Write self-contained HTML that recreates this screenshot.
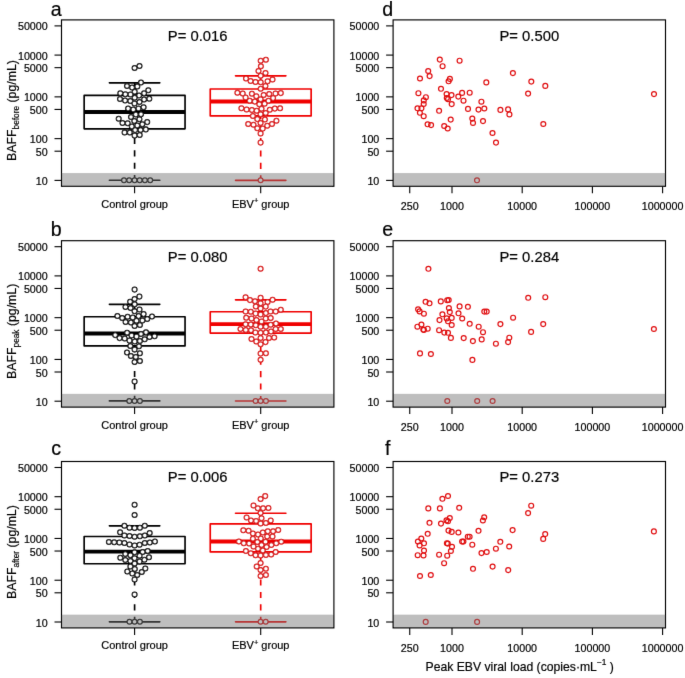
<!DOCTYPE html><html><head><meta charset="utf-8"><style>html,body{margin:0;padding:0;background:#fff;overflow:hidden}svg{display:block}</style></head><body><svg width="685" height="678" viewBox="0 0 685 678">
<defs><filter id="bl" x="0" y="0" width="100%" height="100%" filterUnits="userSpaceOnUse"><feConvolveMatrix order="3" kernelMatrix="0.00524 0.06192 0.00524 0.06192 0.73137 0.06192 0.00524 0.06192 0.00524" preserveAlpha="false" edgeMode="duplicate"/></filter></defs>
<rect width="685" height="678" fill="#fff"/>
<g filter="url(#bl)">
<line x1="54.5" y1="25.89" x2="61.5" y2="25.89" stroke="#000" stroke-width="1.1"/>
<text x="47.7" y="30.49" text-anchor="end" font-size="10.7" font-family="Liberation Sans, sans-serif" stroke="#000" stroke-width="0.2">50000</text>
<line x1="54.5" y1="55.09" x2="61.5" y2="55.09" stroke="#000" stroke-width="1.1"/>
<text x="47.7" y="59.69" text-anchor="end" font-size="10.7" font-family="Liberation Sans, sans-serif" stroke="#000" stroke-width="0.2">10000</text>
<line x1="54.5" y1="67.66" x2="61.5" y2="67.66" stroke="#000" stroke-width="1.1"/>
<text x="47.7" y="72.26" text-anchor="end" font-size="10.7" font-family="Liberation Sans, sans-serif" stroke="#000" stroke-width="0.2">5000</text>
<line x1="54.5" y1="96.86" x2="61.5" y2="96.86" stroke="#000" stroke-width="1.1"/>
<text x="47.7" y="101.46" text-anchor="end" font-size="10.7" font-family="Liberation Sans, sans-serif" stroke="#000" stroke-width="0.2">1000</text>
<line x1="54.5" y1="109.43" x2="61.5" y2="109.43" stroke="#000" stroke-width="1.1"/>
<text x="47.7" y="114.03" text-anchor="end" font-size="10.7" font-family="Liberation Sans, sans-serif" stroke="#000" stroke-width="0.2">500</text>
<line x1="54.5" y1="138.63" x2="61.5" y2="138.63" stroke="#000" stroke-width="1.1"/>
<text x="47.7" y="143.23" text-anchor="end" font-size="10.7" font-family="Liberation Sans, sans-serif" stroke="#000" stroke-width="0.2">100</text>
<line x1="54.5" y1="151.20" x2="61.5" y2="151.20" stroke="#000" stroke-width="1.1"/>
<text x="47.7" y="155.80" text-anchor="end" font-size="10.7" font-family="Liberation Sans, sans-serif" stroke="#000" stroke-width="0.2">50</text>
<line x1="54.5" y1="180.40" x2="61.5" y2="180.40" stroke="#000" stroke-width="1.1"/>
<text x="47.7" y="185.00" text-anchor="end" font-size="10.7" font-family="Liberation Sans, sans-serif" stroke="#000" stroke-width="0.2">10</text>
<line x1="134.6" y1="186.30" x2="134.6" y2="193.30" stroke="#000" stroke-width="1.1"/>
<text x="134.6" y="207.80" text-anchor="middle" font-size="11.0" font-family="Liberation Sans, sans-serif" stroke="#000" stroke-width="0.2">Control group</text>
<line x1="260.7" y1="186.30" x2="260.7" y2="193.30" stroke="#000" stroke-width="1.1"/>
<text x="260.7" y="207.80" text-anchor="middle" font-size="11.0" font-family="Liberation Sans, sans-serif" stroke="#000" stroke-width="0.2">EBV<tspan dy="-4.5" font-size="7.5">+</tspan><tspan dy="4.5"> group</tspan></text>
<line x1="134.6" y1="180.20" x2="134.6" y2="128.80" stroke="#000" stroke-width="1.65" stroke-dasharray="6.1 6.3" stroke-dashoffset="1.0"/>
<line x1="134.6" y1="82.80" x2="134.6" y2="95.40" stroke="#000" stroke-width="1.65" stroke-dasharray="6.1 6.3" stroke-dashoffset="1.0"/>
<line x1="109.39999999999999" y1="180.20" x2="159.79999999999998" y2="180.20" stroke="#000" stroke-width="1.65" stroke-linecap="round"/>
<line x1="109.39999999999999" y1="82.80" x2="159.79999999999998" y2="82.80" stroke="#000" stroke-width="1.65" stroke-linecap="round"/>
<rect x="84.15" y="95.40" width="100.90" height="33.40" fill="none" stroke="#000" stroke-width="1.65" stroke-linejoin="round"/>
<line x1="84.15" y1="112.00" x2="185.05" y2="112.00" stroke="#000" stroke-width="3.8"/>
<line x1="260.7" y1="180.30" x2="260.7" y2="115.90" stroke="#f00000" stroke-width="1.65" stroke-dasharray="6.1 6.3" stroke-dashoffset="1.0"/>
<line x1="260.7" y1="75.80" x2="260.7" y2="89.00" stroke="#f00000" stroke-width="1.65" stroke-dasharray="6.1 6.3" stroke-dashoffset="1.0"/>
<line x1="235.5" y1="180.30" x2="285.9" y2="180.30" stroke="#f00000" stroke-width="1.65" stroke-linecap="round"/>
<line x1="235.5" y1="75.80" x2="285.9" y2="75.80" stroke="#f00000" stroke-width="1.65" stroke-linecap="round"/>
<rect x="210.25" y="89.00" width="100.90" height="26.90" fill="none" stroke="#f00000" stroke-width="1.65" stroke-linejoin="round"/>
<line x1="210.25" y1="101.50" x2="311.15" y2="101.50" stroke="#f00000" stroke-width="3.8"/>
<circle cx="134.6" cy="68.0" r="2.4" fill="#fff" stroke="#000" stroke-width="1.25"/>
<circle cx="139.5" cy="65.9" r="2.4" fill="#fff" stroke="#000" stroke-width="1.25"/>
<circle cx="141.0" cy="82.5" r="2.4" fill="#fff" stroke="#000" stroke-width="1.25"/>
<circle cx="127.0" cy="86.0" r="2.4" fill="#fff" stroke="#000" stroke-width="1.25"/>
<circle cx="132.1" cy="87.4" r="2.4" fill="#fff" stroke="#000" stroke-width="1.25"/>
<circle cx="137.3" cy="86.4" r="2.4" fill="#fff" stroke="#000" stroke-width="1.25"/>
<circle cx="148.3" cy="90.2" r="2.4" fill="#fff" stroke="#000" stroke-width="1.25"/>
<circle cx="134.7" cy="91.7" r="2.4" fill="#fff" stroke="#000" stroke-width="1.25"/>
<circle cx="120.3" cy="93.3" r="2.4" fill="#fff" stroke="#000" stroke-width="1.25"/>
<circle cx="125.3" cy="94.3" r="2.4" fill="#fff" stroke="#000" stroke-width="1.25"/>
<circle cx="130.5" cy="94.5" r="2.4" fill="#fff" stroke="#000" stroke-width="1.25"/>
<circle cx="139.1" cy="95.4" r="2.4" fill="#fff" stroke="#000" stroke-width="1.25"/>
<circle cx="144.1" cy="93.3" r="2.4" fill="#fff" stroke="#000" stroke-width="1.25"/>
<circle cx="120.0" cy="98.9" r="2.4" fill="#fff" stroke="#000" stroke-width="1.25"/>
<circle cx="125.1" cy="100.4" r="2.4" fill="#fff" stroke="#000" stroke-width="1.25"/>
<circle cx="130.3" cy="100.9" r="2.4" fill="#fff" stroke="#000" stroke-width="1.25"/>
<circle cx="134.7" cy="97.8" r="2.4" fill="#fff" stroke="#000" stroke-width="1.25"/>
<circle cx="139.5" cy="101.9" r="2.4" fill="#fff" stroke="#000" stroke-width="1.25"/>
<circle cx="144.1" cy="99.5" r="2.4" fill="#fff" stroke="#000" stroke-width="1.25"/>
<circle cx="149.3" cy="98.7" r="2.4" fill="#fff" stroke="#000" stroke-width="1.25"/>
<circle cx="134.5" cy="103.5" r="2.4" fill="#fff" stroke="#000" stroke-width="1.25"/>
<circle cx="128.1" cy="108.5" r="2.4" fill="#fff" stroke="#000" stroke-width="1.25"/>
<circle cx="133.3" cy="109.5" r="2.4" fill="#fff" stroke="#000" stroke-width="1.25"/>
<circle cx="138.5" cy="108.5" r="2.4" fill="#fff" stroke="#000" stroke-width="1.25"/>
<circle cx="143.6" cy="107.3" r="2.4" fill="#fff" stroke="#000" stroke-width="1.25"/>
<circle cx="135.8" cy="114.4" r="2.4" fill="#fff" stroke="#000" stroke-width="1.25"/>
<circle cx="141.0" cy="114.2" r="2.4" fill="#fff" stroke="#000" stroke-width="1.25"/>
<circle cx="131.0" cy="117.0" r="2.4" fill="#fff" stroke="#000" stroke-width="1.25"/>
<circle cx="118.7" cy="118.8" r="2.4" fill="#fff" stroke="#000" stroke-width="1.25"/>
<circle cx="134.3" cy="121.0" r="2.4" fill="#fff" stroke="#000" stroke-width="1.25"/>
<circle cx="139.4" cy="119.3" r="2.4" fill="#fff" stroke="#000" stroke-width="1.25"/>
<circle cx="122.5" cy="122.9" r="2.4" fill="#fff" stroke="#000" stroke-width="1.25"/>
<circle cx="127.7" cy="123.2" r="2.4" fill="#fff" stroke="#000" stroke-width="1.25"/>
<circle cx="147.2" cy="122.1" r="2.4" fill="#fff" stroke="#000" stroke-width="1.25"/>
<circle cx="131.8" cy="126.4" r="2.4" fill="#fff" stroke="#000" stroke-width="1.25"/>
<circle cx="137.3" cy="125.4" r="2.4" fill="#fff" stroke="#000" stroke-width="1.25"/>
<circle cx="142.3" cy="124.3" r="2.4" fill="#fff" stroke="#000" stroke-width="1.25"/>
<circle cx="135.1" cy="130.1" r="2.4" fill="#fff" stroke="#000" stroke-width="1.25"/>
<circle cx="140.6" cy="129.9" r="2.4" fill="#fff" stroke="#000" stroke-width="1.25"/>
<circle cx="145.8" cy="129.4" r="2.4" fill="#fff" stroke="#000" stroke-width="1.25"/>
<circle cx="124.6" cy="132.4" r="2.4" fill="#fff" stroke="#000" stroke-width="1.25"/>
<circle cx="129.8" cy="132.4" r="2.4" fill="#fff" stroke="#000" stroke-width="1.25"/>
<circle cx="134.6" cy="135.6" r="2.4" fill="#fff" stroke="#000" stroke-width="1.25"/>
<circle cx="139.7" cy="135.0" r="2.4" fill="#fff" stroke="#000" stroke-width="1.25"/>
<circle cx="124.0" cy="180.2" r="2.4" fill="#fff" stroke="#000" stroke-width="1.25"/>
<circle cx="129.2" cy="180.2" r="2.4" fill="#fff" stroke="#000" stroke-width="1.25"/>
<circle cx="134.6" cy="180.2" r="2.4" fill="#fff" stroke="#000" stroke-width="1.25"/>
<circle cx="139.7" cy="180.2" r="2.4" fill="#fff" stroke="#000" stroke-width="1.25"/>
<circle cx="144.9" cy="180.2" r="2.4" fill="#fff" stroke="#000" stroke-width="1.25"/>
<circle cx="150.2" cy="180.2" r="2.4" fill="#fff" stroke="#000" stroke-width="1.25"/>
<circle cx="260.7" cy="60.7" r="2.4" fill="#fff" stroke="#d8080a" stroke-width="1.25"/>
<circle cx="265.9" cy="59.7" r="2.4" fill="#fff" stroke="#d8080a" stroke-width="1.25"/>
<circle cx="260.9" cy="66.2" r="2.4" fill="#fff" stroke="#d8080a" stroke-width="1.25"/>
<circle cx="258.5" cy="71.0" r="2.4" fill="#fff" stroke="#d8080a" stroke-width="1.25"/>
<circle cx="265.5" cy="73.0" r="2.4" fill="#fff" stroke="#d8080a" stroke-width="1.25"/>
<circle cx="260.7" cy="75.8" r="2.4" fill="#fff" stroke="#d8080a" stroke-width="1.25"/>
<circle cx="246.0" cy="78.4" r="2.4" fill="#fff" stroke="#d8080a" stroke-width="1.25"/>
<circle cx="250.6" cy="81.0" r="2.4" fill="#fff" stroke="#d8080a" stroke-width="1.25"/>
<circle cx="255.5" cy="81.9" r="2.4" fill="#fff" stroke="#d8080a" stroke-width="1.25"/>
<circle cx="260.7" cy="82.3" r="2.4" fill="#fff" stroke="#d8080a" stroke-width="1.25"/>
<circle cx="267.6" cy="81.3" r="2.4" fill="#fff" stroke="#d8080a" stroke-width="1.25"/>
<circle cx="272.5" cy="79.4" r="2.4" fill="#fff" stroke="#d8080a" stroke-width="1.25"/>
<circle cx="265.4" cy="86.0" r="2.4" fill="#fff" stroke="#d8080a" stroke-width="1.25"/>
<circle cx="260.7" cy="88.7" r="2.4" fill="#fff" stroke="#d8080a" stroke-width="1.25"/>
<circle cx="237.4" cy="92.8" r="2.4" fill="#fff" stroke="#d8080a" stroke-width="1.25"/>
<circle cx="242.7" cy="93.4" r="2.4" fill="#fff" stroke="#d8080a" stroke-width="1.25"/>
<circle cx="251.9" cy="93.7" r="2.4" fill="#fff" stroke="#d8080a" stroke-width="1.25"/>
<circle cx="256.3" cy="96.3" r="2.4" fill="#fff" stroke="#d8080a" stroke-width="1.25"/>
<circle cx="263.7" cy="95.0" r="2.4" fill="#fff" stroke="#d8080a" stroke-width="1.25"/>
<circle cx="269.2" cy="94.0" r="2.4" fill="#fff" stroke="#d8080a" stroke-width="1.25"/>
<circle cx="275.5" cy="93.4" r="2.4" fill="#fff" stroke="#d8080a" stroke-width="1.25"/>
<circle cx="280.8" cy="93.1" r="2.4" fill="#fff" stroke="#d8080a" stroke-width="1.25"/>
<circle cx="245.6" cy="97.5" r="2.4" fill="#fff" stroke="#d8080a" stroke-width="1.25"/>
<circle cx="260.6" cy="99.2" r="2.4" fill="#fff" stroke="#d8080a" stroke-width="1.25"/>
<circle cx="273.1" cy="98.1" r="2.4" fill="#fff" stroke="#d8080a" stroke-width="1.25"/>
<circle cx="249.7" cy="100.7" r="2.4" fill="#fff" stroke="#d8080a" stroke-width="1.25"/>
<circle cx="254.8" cy="101.6" r="2.4" fill="#fff" stroke="#d8080a" stroke-width="1.25"/>
<circle cx="268.5" cy="100.7" r="2.4" fill="#fff" stroke="#d8080a" stroke-width="1.25"/>
<circle cx="259.3" cy="104.2" r="2.4" fill="#fff" stroke="#d8080a" stroke-width="1.25"/>
<circle cx="264.6" cy="103.8" r="2.4" fill="#fff" stroke="#d8080a" stroke-width="1.25"/>
<circle cx="241.4" cy="108.3" r="2.4" fill="#fff" stroke="#d8080a" stroke-width="1.25"/>
<circle cx="246.6" cy="109.5" r="2.4" fill="#fff" stroke="#d8080a" stroke-width="1.25"/>
<circle cx="251.9" cy="109.9" r="2.4" fill="#fff" stroke="#d8080a" stroke-width="1.25"/>
<circle cx="256.7" cy="110.8" r="2.4" fill="#fff" stroke="#d8080a" stroke-width="1.25"/>
<circle cx="261.5" cy="108.8" r="2.4" fill="#fff" stroke="#d8080a" stroke-width="1.25"/>
<circle cx="269.8" cy="109.7" r="2.4" fill="#fff" stroke="#d8080a" stroke-width="1.25"/>
<circle cx="274.8" cy="108.6" r="2.4" fill="#fff" stroke="#d8080a" stroke-width="1.25"/>
<circle cx="280.1" cy="108.3" r="2.4" fill="#fff" stroke="#d8080a" stroke-width="1.25"/>
<circle cx="260.6" cy="114.3" r="2.4" fill="#fff" stroke="#d8080a" stroke-width="1.25"/>
<circle cx="265.7" cy="113.0" r="2.4" fill="#fff" stroke="#d8080a" stroke-width="1.25"/>
<circle cx="252.9" cy="116.0" r="2.4" fill="#fff" stroke="#d8080a" stroke-width="1.25"/>
<circle cx="257.3" cy="119.1" r="2.4" fill="#fff" stroke="#d8080a" stroke-width="1.25"/>
<circle cx="264.9" cy="119.5" r="2.4" fill="#fff" stroke="#d8080a" stroke-width="1.25"/>
<circle cx="260.6" cy="122.9" r="2.4" fill="#fff" stroke="#d8080a" stroke-width="1.25"/>
<circle cx="276.4" cy="120.8" r="2.4" fill="#fff" stroke="#d8080a" stroke-width="1.25"/>
<circle cx="248.2" cy="123.9" r="2.4" fill="#fff" stroke="#d8080a" stroke-width="1.25"/>
<circle cx="253.5" cy="124.8" r="2.4" fill="#fff" stroke="#d8080a" stroke-width="1.25"/>
<circle cx="272.0" cy="123.9" r="2.4" fill="#fff" stroke="#d8080a" stroke-width="1.25"/>
<circle cx="267.2" cy="125.8" r="2.4" fill="#fff" stroke="#d8080a" stroke-width="1.25"/>
<circle cx="257.3" cy="128.3" r="2.4" fill="#fff" stroke="#d8080a" stroke-width="1.25"/>
<circle cx="262.7" cy="128.6" r="2.4" fill="#fff" stroke="#d8080a" stroke-width="1.25"/>
<circle cx="260.6" cy="133.4" r="2.4" fill="#fff" stroke="#d8080a" stroke-width="1.25"/>
<circle cx="260.6" cy="142.6" r="2.4" fill="#fff" stroke="#d8080a" stroke-width="1.25"/>
<circle cx="260.6" cy="180.3" r="2.4" fill="#fff" stroke="#d8080a" stroke-width="1.25"/>
<rect x="61.5" y="173.04" width="272.40" height="13.26" fill="rgb(110,110,110)" fill-opacity="0.45"/>
<rect x="61.5" y="19.900000000000006" width="272.40" height="166.40" fill="none" stroke="#000" stroke-width="1.15"/>
<text x="197.7" y="40.70" text-anchor="middle" font-size="14.8" font-family="Liberation Sans, sans-serif" stroke="#000" stroke-width="0.2">P= 0.016</text>
<text x="56.2" y="15.7" text-anchor="middle" font-size="19.6" font-family="Liberation Sans, sans-serif" stroke="#000" stroke-width="0.2">a</text>
<text transform="translate(16.0,110.50) rotate(-90)" text-anchor="middle" font-size="12.3" font-family="Liberation Sans, sans-serif" stroke="#000" stroke-width="0.2">BAFF<tspan dy="2.6" font-size="8.3">before</tspan><tspan dy="-2.6"> (pg/mL)</tspan></text>
<line x1="386.1" y1="25.89" x2="393.1" y2="25.89" stroke="#000" stroke-width="1.1"/>
<text x="379.3" y="30.49" text-anchor="end" font-size="10.7" font-family="Liberation Sans, sans-serif" stroke="#000" stroke-width="0.2">50000</text>
<line x1="386.1" y1="55.09" x2="393.1" y2="55.09" stroke="#000" stroke-width="1.1"/>
<text x="379.3" y="59.69" text-anchor="end" font-size="10.7" font-family="Liberation Sans, sans-serif" stroke="#000" stroke-width="0.2">10000</text>
<line x1="386.1" y1="67.66" x2="393.1" y2="67.66" stroke="#000" stroke-width="1.1"/>
<text x="379.3" y="72.26" text-anchor="end" font-size="10.7" font-family="Liberation Sans, sans-serif" stroke="#000" stroke-width="0.2">5000</text>
<line x1="386.1" y1="96.86" x2="393.1" y2="96.86" stroke="#000" stroke-width="1.1"/>
<text x="379.3" y="101.46" text-anchor="end" font-size="10.7" font-family="Liberation Sans, sans-serif" stroke="#000" stroke-width="0.2">1000</text>
<line x1="386.1" y1="109.43" x2="393.1" y2="109.43" stroke="#000" stroke-width="1.1"/>
<text x="379.3" y="114.03" text-anchor="end" font-size="10.7" font-family="Liberation Sans, sans-serif" stroke="#000" stroke-width="0.2">500</text>
<line x1="386.1" y1="138.63" x2="393.1" y2="138.63" stroke="#000" stroke-width="1.1"/>
<text x="379.3" y="143.23" text-anchor="end" font-size="10.7" font-family="Liberation Sans, sans-serif" stroke="#000" stroke-width="0.2">100</text>
<line x1="386.1" y1="151.20" x2="393.1" y2="151.20" stroke="#000" stroke-width="1.1"/>
<text x="379.3" y="155.80" text-anchor="end" font-size="10.7" font-family="Liberation Sans, sans-serif" stroke="#000" stroke-width="0.2">50</text>
<line x1="386.1" y1="180.40" x2="393.1" y2="180.40" stroke="#000" stroke-width="1.1"/>
<text x="379.3" y="185.00" text-anchor="end" font-size="10.7" font-family="Liberation Sans, sans-serif" stroke="#000" stroke-width="0.2">10</text>
<line x1="409.74" y1="186.30" x2="409.74" y2="193.30" stroke="#000" stroke-width="1.1"/>
<text x="409.74" y="209.90" text-anchor="middle" font-size="10.7" font-family="Liberation Sans, sans-serif" stroke="#000" stroke-width="0.2">250</text>
<line x1="452.00" y1="186.30" x2="452.00" y2="193.30" stroke="#000" stroke-width="1.1"/>
<text x="452.00" y="209.90" text-anchor="middle" font-size="10.7" font-family="Liberation Sans, sans-serif" stroke="#000" stroke-width="0.2">1000</text>
<line x1="522.20" y1="186.30" x2="522.20" y2="193.30" stroke="#000" stroke-width="1.1"/>
<text x="522.20" y="209.90" text-anchor="middle" font-size="10.7" font-family="Liberation Sans, sans-serif" stroke="#000" stroke-width="0.2">10000</text>
<line x1="592.40" y1="186.30" x2="592.40" y2="193.30" stroke="#000" stroke-width="1.1"/>
<text x="592.40" y="209.90" text-anchor="middle" font-size="10.7" font-family="Liberation Sans, sans-serif" stroke="#000" stroke-width="0.2">100000</text>
<line x1="662.60" y1="186.30" x2="662.60" y2="193.30" stroke="#000" stroke-width="1.1"/>
<text x="662.60" y="209.90" text-anchor="middle" font-size="10.7" font-family="Liberation Sans, sans-serif" stroke="#000" stroke-width="0.2">1000000</text>
<circle cx="439.8" cy="59.6" r="2.45" fill="none" stroke="#e00c10" stroke-width="1.2"/>
<circle cx="442.6" cy="66.2" r="2.45" fill="none" stroke="#e00c10" stroke-width="1.2"/>
<circle cx="428.2" cy="71.0" r="2.45" fill="none" stroke="#e00c10" stroke-width="1.2"/>
<circle cx="429.6" cy="76.1" r="2.45" fill="none" stroke="#e00c10" stroke-width="1.2"/>
<circle cx="420.0" cy="78.5" r="2.45" fill="none" stroke="#e00c10" stroke-width="1.2"/>
<circle cx="449.9" cy="78.9" r="2.45" fill="none" stroke="#e00c10" stroke-width="1.2"/>
<circle cx="448.6" cy="81.3" r="2.45" fill="none" stroke="#e00c10" stroke-width="1.2"/>
<circle cx="459.6" cy="60.7" r="2.45" fill="none" stroke="#e00c10" stroke-width="1.2"/>
<circle cx="486.3" cy="82.4" r="2.45" fill="none" stroke="#e00c10" stroke-width="1.2"/>
<circle cx="512.9" cy="73.1" r="2.45" fill="none" stroke="#e00c10" stroke-width="1.2"/>
<circle cx="441.0" cy="88.8" r="2.45" fill="none" stroke="#e00c10" stroke-width="1.2"/>
<circle cx="418.4" cy="93.2" r="2.45" fill="none" stroke="#e00c10" stroke-width="1.2"/>
<circle cx="425.9" cy="97.2" r="2.45" fill="none" stroke="#e00c10" stroke-width="1.2"/>
<circle cx="423.8" cy="100.4" r="2.45" fill="none" stroke="#e00c10" stroke-width="1.2"/>
<circle cx="423.7" cy="104.0" r="2.45" fill="none" stroke="#e00c10" stroke-width="1.2"/>
<circle cx="417.5" cy="108.3" r="2.45" fill="none" stroke="#e00c10" stroke-width="1.2"/>
<circle cx="421.4" cy="108.3" r="2.45" fill="none" stroke="#e00c10" stroke-width="1.2"/>
<circle cx="419.9" cy="112.8" r="2.45" fill="none" stroke="#e00c10" stroke-width="1.2"/>
<circle cx="423.7" cy="116.2" r="2.45" fill="none" stroke="#e00c10" stroke-width="1.2"/>
<circle cx="446.6" cy="94.0" r="2.45" fill="none" stroke="#e00c10" stroke-width="1.2"/>
<circle cx="451.5" cy="95.1" r="2.45" fill="none" stroke="#e00c10" stroke-width="1.2"/>
<circle cx="446.8" cy="98.0" r="2.45" fill="none" stroke="#e00c10" stroke-width="1.2"/>
<circle cx="448.0" cy="99.2" r="2.45" fill="none" stroke="#e00c10" stroke-width="1.2"/>
<circle cx="451.7" cy="104.1" r="2.45" fill="none" stroke="#e00c10" stroke-width="1.2"/>
<circle cx="458.3" cy="96.6" r="2.45" fill="none" stroke="#e00c10" stroke-width="1.2"/>
<circle cx="462.1" cy="92.9" r="2.45" fill="none" stroke="#e00c10" stroke-width="1.2"/>
<circle cx="463.5" cy="100.7" r="2.45" fill="none" stroke="#e00c10" stroke-width="1.2"/>
<circle cx="439.1" cy="110.8" r="2.45" fill="none" stroke="#e00c10" stroke-width="1.2"/>
<circle cx="469.7" cy="92.7" r="2.45" fill="none" stroke="#e00c10" stroke-width="1.2"/>
<circle cx="481.4" cy="101.7" r="2.45" fill="none" stroke="#e00c10" stroke-width="1.2"/>
<circle cx="468.0" cy="108.9" r="2.45" fill="none" stroke="#e00c10" stroke-width="1.2"/>
<circle cx="478.5" cy="109.6" r="2.45" fill="none" stroke="#e00c10" stroke-width="1.2"/>
<circle cx="484.3" cy="108.5" r="2.45" fill="none" stroke="#e00c10" stroke-width="1.2"/>
<circle cx="500.4" cy="109.9" r="2.45" fill="none" stroke="#e00c10" stroke-width="1.2"/>
<circle cx="508.1" cy="109.4" r="2.45" fill="none" stroke="#e00c10" stroke-width="1.2"/>
<circle cx="509.4" cy="114.4" r="2.45" fill="none" stroke="#e00c10" stroke-width="1.2"/>
<circle cx="450.7" cy="119.6" r="2.45" fill="none" stroke="#e00c10" stroke-width="1.2"/>
<circle cx="427.6" cy="124.3" r="2.45" fill="none" stroke="#e00c10" stroke-width="1.2"/>
<circle cx="431.1" cy="125.1" r="2.45" fill="none" stroke="#e00c10" stroke-width="1.2"/>
<circle cx="444.2" cy="126.0" r="2.45" fill="none" stroke="#e00c10" stroke-width="1.2"/>
<circle cx="447.7" cy="128.5" r="2.45" fill="none" stroke="#e00c10" stroke-width="1.2"/>
<circle cx="472.3" cy="118.6" r="2.45" fill="none" stroke="#e00c10" stroke-width="1.2"/>
<circle cx="473.0" cy="122.9" r="2.45" fill="none" stroke="#e00c10" stroke-width="1.2"/>
<circle cx="483.0" cy="121.1" r="2.45" fill="none" stroke="#e00c10" stroke-width="1.2"/>
<circle cx="492.5" cy="133.0" r="2.45" fill="none" stroke="#e00c10" stroke-width="1.2"/>
<circle cx="496.0" cy="142.6" r="2.45" fill="none" stroke="#e00c10" stroke-width="1.2"/>
<circle cx="531.3" cy="81.6" r="2.45" fill="none" stroke="#e00c10" stroke-width="1.2"/>
<circle cx="545.3" cy="85.9" r="2.45" fill="none" stroke="#e00c10" stroke-width="1.2"/>
<circle cx="528.1" cy="93.6" r="2.45" fill="none" stroke="#e00c10" stroke-width="1.2"/>
<circle cx="543.3" cy="124.0" r="2.45" fill="none" stroke="#e00c10" stroke-width="1.2"/>
<circle cx="654.0" cy="94.1" r="2.45" fill="none" stroke="#e00c10" stroke-width="1.2"/>
<circle cx="477.0" cy="180.3" r="2.45" fill="none" stroke="#e00c10" stroke-width="1.2"/>
<rect x="393.1" y="173.04" width="272.40" height="13.26" fill="rgb(110,110,110)" fill-opacity="0.45"/>
<rect x="393.1" y="19.900000000000006" width="272.40" height="166.40" fill="none" stroke="#000" stroke-width="1.15"/>
<text x="529.3" y="40.70" text-anchor="middle" font-size="14.8" font-family="Liberation Sans, sans-serif" stroke="#000" stroke-width="0.2">P= 0.500</text>
<text x="387.8" y="15.6" text-anchor="middle" font-size="19.6" font-family="Liberation Sans, sans-serif" stroke="#000" stroke-width="0.2">d</text>
<line x1="54.5" y1="246.69" x2="61.5" y2="246.69" stroke="#000" stroke-width="1.1"/>
<text x="47.7" y="251.29" text-anchor="end" font-size="10.7" font-family="Liberation Sans, sans-serif" stroke="#000" stroke-width="0.2">50000</text>
<line x1="54.5" y1="275.89" x2="61.5" y2="275.89" stroke="#000" stroke-width="1.1"/>
<text x="47.7" y="280.49" text-anchor="end" font-size="10.7" font-family="Liberation Sans, sans-serif" stroke="#000" stroke-width="0.2">10000</text>
<line x1="54.5" y1="288.46" x2="61.5" y2="288.46" stroke="#000" stroke-width="1.1"/>
<text x="47.7" y="293.06" text-anchor="end" font-size="10.7" font-family="Liberation Sans, sans-serif" stroke="#000" stroke-width="0.2">5000</text>
<line x1="54.5" y1="317.66" x2="61.5" y2="317.66" stroke="#000" stroke-width="1.1"/>
<text x="47.7" y="322.26" text-anchor="end" font-size="10.7" font-family="Liberation Sans, sans-serif" stroke="#000" stroke-width="0.2">1000</text>
<line x1="54.5" y1="330.23" x2="61.5" y2="330.23" stroke="#000" stroke-width="1.1"/>
<text x="47.7" y="334.83" text-anchor="end" font-size="10.7" font-family="Liberation Sans, sans-serif" stroke="#000" stroke-width="0.2">500</text>
<line x1="54.5" y1="359.43" x2="61.5" y2="359.43" stroke="#000" stroke-width="1.1"/>
<text x="47.7" y="364.03" text-anchor="end" font-size="10.7" font-family="Liberation Sans, sans-serif" stroke="#000" stroke-width="0.2">100</text>
<line x1="54.5" y1="372.00" x2="61.5" y2="372.00" stroke="#000" stroke-width="1.1"/>
<text x="47.7" y="376.60" text-anchor="end" font-size="10.7" font-family="Liberation Sans, sans-serif" stroke="#000" stroke-width="0.2">50</text>
<line x1="54.5" y1="401.20" x2="61.5" y2="401.20" stroke="#000" stroke-width="1.1"/>
<text x="47.7" y="405.80" text-anchor="end" font-size="10.7" font-family="Liberation Sans, sans-serif" stroke="#000" stroke-width="0.2">10</text>
<line x1="134.6" y1="407.10" x2="134.6" y2="414.10" stroke="#000" stroke-width="1.1"/>
<text x="134.6" y="428.60" text-anchor="middle" font-size="11.0" font-family="Liberation Sans, sans-serif" stroke="#000" stroke-width="0.2">Control group</text>
<line x1="260.7" y1="407.10" x2="260.7" y2="414.10" stroke="#000" stroke-width="1.1"/>
<text x="260.7" y="428.60" text-anchor="middle" font-size="11.0" font-family="Liberation Sans, sans-serif" stroke="#000" stroke-width="0.2">EBV<tspan dy="-4.5" font-size="7.5">+</tspan><tspan dy="4.5"> group</tspan></text>
<line x1="134.6" y1="400.90" x2="134.6" y2="345.90" stroke="#000" stroke-width="1.65" stroke-dasharray="6.1 6.3" stroke-dashoffset="1.0"/>
<line x1="134.6" y1="304.30" x2="134.6" y2="316.70" stroke="#000" stroke-width="1.65" stroke-dasharray="6.1 6.3" stroke-dashoffset="1.0"/>
<line x1="109.39999999999999" y1="400.90" x2="159.79999999999998" y2="400.90" stroke="#000" stroke-width="1.65" stroke-linecap="round"/>
<line x1="109.39999999999999" y1="304.30" x2="159.79999999999998" y2="304.30" stroke="#000" stroke-width="1.65" stroke-linecap="round"/>
<rect x="84.15" y="316.70" width="100.90" height="29.20" fill="none" stroke="#000" stroke-width="1.65" stroke-linejoin="round"/>
<line x1="84.15" y1="333.50" x2="185.05" y2="333.50" stroke="#000" stroke-width="3.8"/>
<line x1="260.7" y1="401.00" x2="260.7" y2="333.10" stroke="#f00000" stroke-width="1.65" stroke-dasharray="6.1 6.3" stroke-dashoffset="1.0"/>
<line x1="260.7" y1="299.80" x2="260.7" y2="311.70" stroke="#f00000" stroke-width="1.65" stroke-dasharray="6.1 6.3" stroke-dashoffset="1.0"/>
<line x1="235.5" y1="401.00" x2="285.9" y2="401.00" stroke="#f00000" stroke-width="1.65" stroke-linecap="round"/>
<line x1="235.5" y1="299.80" x2="285.9" y2="299.80" stroke="#f00000" stroke-width="1.65" stroke-linecap="round"/>
<rect x="210.25" y="311.70" width="100.90" height="21.40" fill="none" stroke="#f00000" stroke-width="1.65" stroke-linejoin="round"/>
<line x1="210.25" y1="324.10" x2="311.15" y2="324.10" stroke="#f00000" stroke-width="3.8"/>
<circle cx="134.6" cy="289.6" r="2.4" fill="#fff" stroke="#000" stroke-width="1.25"/>
<circle cx="139.4" cy="296.6" r="2.4" fill="#fff" stroke="#000" stroke-width="1.25"/>
<circle cx="134.6" cy="299.0" r="2.4" fill="#fff" stroke="#000" stroke-width="1.25"/>
<circle cx="130.1" cy="301.8" r="2.4" fill="#fff" stroke="#000" stroke-width="1.25"/>
<circle cx="134.7" cy="304.3" r="2.4" fill="#fff" stroke="#000" stroke-width="1.25"/>
<circle cx="125.5" cy="306.9" r="2.4" fill="#fff" stroke="#000" stroke-width="1.25"/>
<circle cx="130.6" cy="307.9" r="2.4" fill="#fff" stroke="#000" stroke-width="1.25"/>
<circle cx="139.5" cy="309.4" r="2.4" fill="#fff" stroke="#000" stroke-width="1.25"/>
<circle cx="134.6" cy="311.3" r="2.4" fill="#fff" stroke="#000" stroke-width="1.25"/>
<circle cx="143.6" cy="314.1" r="2.4" fill="#fff" stroke="#000" stroke-width="1.25"/>
<circle cx="117.4" cy="315.9" r="2.4" fill="#fff" stroke="#000" stroke-width="1.25"/>
<circle cx="122.2" cy="318.0" r="2.4" fill="#fff" stroke="#000" stroke-width="1.25"/>
<circle cx="127.6" cy="316.7" r="2.4" fill="#fff" stroke="#000" stroke-width="1.25"/>
<circle cx="132.7" cy="317.5" r="2.4" fill="#fff" stroke="#000" stroke-width="1.25"/>
<circle cx="138.6" cy="316.1" r="2.4" fill="#fff" stroke="#000" stroke-width="1.25"/>
<circle cx="147.2" cy="318.9" r="2.4" fill="#fff" stroke="#000" stroke-width="1.25"/>
<circle cx="152.0" cy="316.5" r="2.4" fill="#fff" stroke="#000" stroke-width="1.25"/>
<circle cx="125.6" cy="322.0" r="2.4" fill="#fff" stroke="#000" stroke-width="1.25"/>
<circle cx="130.9" cy="322.4" r="2.4" fill="#fff" stroke="#000" stroke-width="1.25"/>
<circle cx="136.5" cy="320.8" r="2.4" fill="#fff" stroke="#000" stroke-width="1.25"/>
<circle cx="142.4" cy="320.4" r="2.4" fill="#fff" stroke="#000" stroke-width="1.25"/>
<circle cx="134.6" cy="325.9" r="2.4" fill="#fff" stroke="#000" stroke-width="1.25"/>
<circle cx="139.9" cy="325.0" r="2.4" fill="#fff" stroke="#000" stroke-width="1.25"/>
<circle cx="127.1" cy="332.7" r="2.4" fill="#fff" stroke="#000" stroke-width="1.25"/>
<circle cx="146.0" cy="332.2" r="2.4" fill="#fff" stroke="#000" stroke-width="1.25"/>
<circle cx="115.2" cy="335.1" r="2.4" fill="#fff" stroke="#000" stroke-width="1.25"/>
<circle cx="119.6" cy="338.1" r="2.4" fill="#fff" stroke="#000" stroke-width="1.25"/>
<circle cx="124.7" cy="338.4" r="2.4" fill="#fff" stroke="#000" stroke-width="1.25"/>
<circle cx="131.6" cy="335.5" r="2.4" fill="#fff" stroke="#000" stroke-width="1.25"/>
<circle cx="136.5" cy="336.6" r="2.4" fill="#fff" stroke="#000" stroke-width="1.25"/>
<circle cx="141.0" cy="334.0" r="2.4" fill="#fff" stroke="#000" stroke-width="1.25"/>
<circle cx="149.5" cy="337.0" r="2.4" fill="#fff" stroke="#000" stroke-width="1.25"/>
<circle cx="154.6" cy="336.2" r="2.4" fill="#fff" stroke="#000" stroke-width="1.25"/>
<circle cx="129.5" cy="340.6" r="2.4" fill="#fff" stroke="#000" stroke-width="1.25"/>
<circle cx="134.7" cy="341.4" r="2.4" fill="#fff" stroke="#000" stroke-width="1.25"/>
<circle cx="139.9" cy="340.9" r="2.4" fill="#fff" stroke="#000" stroke-width="1.25"/>
<circle cx="144.7" cy="339.2" r="2.4" fill="#fff" stroke="#000" stroke-width="1.25"/>
<circle cx="130.3" cy="346.0" r="2.4" fill="#fff" stroke="#000" stroke-width="1.25"/>
<circle cx="139.0" cy="346.2" r="2.4" fill="#fff" stroke="#000" stroke-width="1.25"/>
<circle cx="134.6" cy="349.4" r="2.4" fill="#fff" stroke="#000" stroke-width="1.25"/>
<circle cx="127.0" cy="352.4" r="2.4" fill="#fff" stroke="#000" stroke-width="1.25"/>
<circle cx="139.9" cy="353.2" r="2.4" fill="#fff" stroke="#000" stroke-width="1.25"/>
<circle cx="130.9" cy="356.0" r="2.4" fill="#fff" stroke="#000" stroke-width="1.25"/>
<circle cx="135.8" cy="356.9" r="2.4" fill="#fff" stroke="#000" stroke-width="1.25"/>
<circle cx="134.6" cy="361.9" r="2.4" fill="#fff" stroke="#000" stroke-width="1.25"/>
<circle cx="139.9" cy="360.9" r="2.4" fill="#fff" stroke="#000" stroke-width="1.25"/>
<circle cx="134.6" cy="381.4" r="2.4" fill="#fff" stroke="#000" stroke-width="1.25"/>
<circle cx="129.3" cy="400.9" r="2.4" fill="#fff" stroke="#000" stroke-width="1.25"/>
<circle cx="134.6" cy="400.9" r="2.4" fill="#fff" stroke="#000" stroke-width="1.25"/>
<circle cx="139.9" cy="400.9" r="2.4" fill="#fff" stroke="#000" stroke-width="1.25"/>
<circle cx="260.6" cy="268.8" r="2.4" fill="#fff" stroke="#d8080a" stroke-width="1.25"/>
<circle cx="245.6" cy="297.2" r="2.4" fill="#fff" stroke="#d8080a" stroke-width="1.25"/>
<circle cx="250.0" cy="300.1" r="2.4" fill="#fff" stroke="#d8080a" stroke-width="1.25"/>
<circle cx="255.0" cy="301.2" r="2.4" fill="#fff" stroke="#d8080a" stroke-width="1.25"/>
<circle cx="260.6" cy="297.7" r="2.4" fill="#fff" stroke="#d8080a" stroke-width="1.25"/>
<circle cx="260.6" cy="303.2" r="2.4" fill="#fff" stroke="#d8080a" stroke-width="1.25"/>
<circle cx="267.6" cy="302.0" r="2.4" fill="#fff" stroke="#d8080a" stroke-width="1.25"/>
<circle cx="272.6" cy="299.8" r="2.4" fill="#fff" stroke="#d8080a" stroke-width="1.25"/>
<circle cx="255.8" cy="306.4" r="2.4" fill="#fff" stroke="#d8080a" stroke-width="1.25"/>
<circle cx="265.7" cy="306.6" r="2.4" fill="#fff" stroke="#d8080a" stroke-width="1.25"/>
<circle cx="260.6" cy="308.5" r="2.4" fill="#fff" stroke="#d8080a" stroke-width="1.25"/>
<circle cx="245.6" cy="311.4" r="2.4" fill="#fff" stroke="#d8080a" stroke-width="1.25"/>
<circle cx="250.8" cy="311.8" r="2.4" fill="#fff" stroke="#d8080a" stroke-width="1.25"/>
<circle cx="255.6" cy="313.6" r="2.4" fill="#fff" stroke="#d8080a" stroke-width="1.25"/>
<circle cx="260.6" cy="314.4" r="2.4" fill="#fff" stroke="#d8080a" stroke-width="1.25"/>
<circle cx="265.9" cy="313.1" r="2.4" fill="#fff" stroke="#d8080a" stroke-width="1.25"/>
<circle cx="270.5" cy="311.4" r="2.4" fill="#fff" stroke="#d8080a" stroke-width="1.25"/>
<circle cx="275.7" cy="311.4" r="2.4" fill="#fff" stroke="#d8080a" stroke-width="1.25"/>
<circle cx="280.8" cy="309.8" r="2.4" fill="#fff" stroke="#d8080a" stroke-width="1.25"/>
<circle cx="246.2" cy="317.7" r="2.4" fill="#fff" stroke="#d8080a" stroke-width="1.25"/>
<circle cx="251.5" cy="318.4" r="2.4" fill="#fff" stroke="#d8080a" stroke-width="1.25"/>
<circle cx="256.4" cy="320.0" r="2.4" fill="#fff" stroke="#d8080a" stroke-width="1.25"/>
<circle cx="261.5" cy="321.5" r="2.4" fill="#fff" stroke="#d8080a" stroke-width="1.25"/>
<circle cx="265.7" cy="318.4" r="2.4" fill="#fff" stroke="#d8080a" stroke-width="1.25"/>
<circle cx="270.7" cy="318.0" r="2.4" fill="#fff" stroke="#d8080a" stroke-width="1.25"/>
<circle cx="245.6" cy="324.3" r="2.4" fill="#fff" stroke="#d8080a" stroke-width="1.25"/>
<circle cx="250.8" cy="324.5" r="2.4" fill="#fff" stroke="#d8080a" stroke-width="1.25"/>
<circle cx="255.8" cy="325.2" r="2.4" fill="#fff" stroke="#d8080a" stroke-width="1.25"/>
<circle cx="260.6" cy="326.7" r="2.4" fill="#fff" stroke="#d8080a" stroke-width="1.25"/>
<circle cx="265.9" cy="326.7" r="2.4" fill="#fff" stroke="#d8080a" stroke-width="1.25"/>
<circle cx="270.7" cy="324.7" r="2.4" fill="#fff" stroke="#d8080a" stroke-width="1.25"/>
<circle cx="276.0" cy="323.5" r="2.4" fill="#fff" stroke="#d8080a" stroke-width="1.25"/>
<circle cx="240.5" cy="328.9" r="2.4" fill="#fff" stroke="#d8080a" stroke-width="1.25"/>
<circle cx="245.8" cy="329.9" r="2.4" fill="#fff" stroke="#d8080a" stroke-width="1.25"/>
<circle cx="251.0" cy="330.2" r="2.4" fill="#fff" stroke="#d8080a" stroke-width="1.25"/>
<circle cx="255.4" cy="332.4" r="2.4" fill="#fff" stroke="#d8080a" stroke-width="1.25"/>
<circle cx="260.6" cy="332.8" r="2.4" fill="#fff" stroke="#d8080a" stroke-width="1.25"/>
<circle cx="265.9" cy="332.4" r="2.4" fill="#fff" stroke="#d8080a" stroke-width="1.25"/>
<circle cx="271.0" cy="331.5" r="2.4" fill="#fff" stroke="#d8080a" stroke-width="1.25"/>
<circle cx="275.7" cy="328.9" r="2.4" fill="#fff" stroke="#d8080a" stroke-width="1.25"/>
<circle cx="280.8" cy="328.9" r="2.4" fill="#fff" stroke="#d8080a" stroke-width="1.25"/>
<circle cx="251.5" cy="338.9" r="2.4" fill="#fff" stroke="#d8080a" stroke-width="1.25"/>
<circle cx="260.6" cy="338.0" r="2.4" fill="#fff" stroke="#d8080a" stroke-width="1.25"/>
<circle cx="269.0" cy="338.0" r="2.4" fill="#fff" stroke="#d8080a" stroke-width="1.25"/>
<circle cx="274.2" cy="337.5" r="2.4" fill="#fff" stroke="#d8080a" stroke-width="1.25"/>
<circle cx="256.3" cy="341.4" r="2.4" fill="#fff" stroke="#d8080a" stroke-width="1.25"/>
<circle cx="265.5" cy="342.1" r="2.4" fill="#fff" stroke="#d8080a" stroke-width="1.25"/>
<circle cx="260.6" cy="344.2" r="2.4" fill="#fff" stroke="#d8080a" stroke-width="1.25"/>
<circle cx="260.6" cy="353.6" r="2.4" fill="#fff" stroke="#d8080a" stroke-width="1.25"/>
<circle cx="265.9" cy="353.2" r="2.4" fill="#fff" stroke="#d8080a" stroke-width="1.25"/>
<circle cx="260.6" cy="359.8" r="2.4" fill="#fff" stroke="#d8080a" stroke-width="1.25"/>
<circle cx="255.6" cy="401.0" r="2.4" fill="#fff" stroke="#d8080a" stroke-width="1.25"/>
<circle cx="260.6" cy="401.0" r="2.4" fill="#fff" stroke="#d8080a" stroke-width="1.25"/>
<circle cx="265.9" cy="401.0" r="2.4" fill="#fff" stroke="#d8080a" stroke-width="1.25"/>
<rect x="61.5" y="393.84" width="272.40" height="13.26" fill="rgb(110,110,110)" fill-opacity="0.45"/>
<rect x="61.5" y="240.7" width="272.40" height="166.40" fill="none" stroke="#000" stroke-width="1.15"/>
<text x="197.7" y="261.50" text-anchor="middle" font-size="14.8" font-family="Liberation Sans, sans-serif" stroke="#000" stroke-width="0.2">P= 0.080</text>
<text x="56.2" y="235.5" text-anchor="middle" font-size="19.6" font-family="Liberation Sans, sans-serif" stroke="#000" stroke-width="0.2">b</text>
<text transform="translate(16.0,331.30) rotate(-90)" text-anchor="middle" font-size="12.3" font-family="Liberation Sans, sans-serif" stroke="#000" stroke-width="0.2">BAFF<tspan dy="2.6" font-size="8.3">peak</tspan><tspan dy="-2.6"> (pg/mL)</tspan></text>
<line x1="386.1" y1="246.69" x2="393.1" y2="246.69" stroke="#000" stroke-width="1.1"/>
<text x="379.3" y="251.29" text-anchor="end" font-size="10.7" font-family="Liberation Sans, sans-serif" stroke="#000" stroke-width="0.2">50000</text>
<line x1="386.1" y1="275.89" x2="393.1" y2="275.89" stroke="#000" stroke-width="1.1"/>
<text x="379.3" y="280.49" text-anchor="end" font-size="10.7" font-family="Liberation Sans, sans-serif" stroke="#000" stroke-width="0.2">10000</text>
<line x1="386.1" y1="288.46" x2="393.1" y2="288.46" stroke="#000" stroke-width="1.1"/>
<text x="379.3" y="293.06" text-anchor="end" font-size="10.7" font-family="Liberation Sans, sans-serif" stroke="#000" stroke-width="0.2">5000</text>
<line x1="386.1" y1="317.66" x2="393.1" y2="317.66" stroke="#000" stroke-width="1.1"/>
<text x="379.3" y="322.26" text-anchor="end" font-size="10.7" font-family="Liberation Sans, sans-serif" stroke="#000" stroke-width="0.2">1000</text>
<line x1="386.1" y1="330.23" x2="393.1" y2="330.23" stroke="#000" stroke-width="1.1"/>
<text x="379.3" y="334.83" text-anchor="end" font-size="10.7" font-family="Liberation Sans, sans-serif" stroke="#000" stroke-width="0.2">500</text>
<line x1="386.1" y1="359.43" x2="393.1" y2="359.43" stroke="#000" stroke-width="1.1"/>
<text x="379.3" y="364.03" text-anchor="end" font-size="10.7" font-family="Liberation Sans, sans-serif" stroke="#000" stroke-width="0.2">100</text>
<line x1="386.1" y1="372.00" x2="393.1" y2="372.00" stroke="#000" stroke-width="1.1"/>
<text x="379.3" y="376.60" text-anchor="end" font-size="10.7" font-family="Liberation Sans, sans-serif" stroke="#000" stroke-width="0.2">50</text>
<line x1="386.1" y1="401.20" x2="393.1" y2="401.20" stroke="#000" stroke-width="1.1"/>
<text x="379.3" y="405.80" text-anchor="end" font-size="10.7" font-family="Liberation Sans, sans-serif" stroke="#000" stroke-width="0.2">10</text>
<line x1="409.74" y1="407.10" x2="409.74" y2="414.10" stroke="#000" stroke-width="1.1"/>
<text x="409.74" y="430.70" text-anchor="middle" font-size="10.7" font-family="Liberation Sans, sans-serif" stroke="#000" stroke-width="0.2">250</text>
<line x1="452.00" y1="407.10" x2="452.00" y2="414.10" stroke="#000" stroke-width="1.1"/>
<text x="452.00" y="430.70" text-anchor="middle" font-size="10.7" font-family="Liberation Sans, sans-serif" stroke="#000" stroke-width="0.2">1000</text>
<line x1="522.20" y1="407.10" x2="522.20" y2="414.10" stroke="#000" stroke-width="1.1"/>
<text x="522.20" y="430.70" text-anchor="middle" font-size="10.7" font-family="Liberation Sans, sans-serif" stroke="#000" stroke-width="0.2">10000</text>
<line x1="592.40" y1="407.10" x2="592.40" y2="414.10" stroke="#000" stroke-width="1.1"/>
<text x="592.40" y="430.70" text-anchor="middle" font-size="10.7" font-family="Liberation Sans, sans-serif" stroke="#000" stroke-width="0.2">100000</text>
<line x1="662.60" y1="407.10" x2="662.60" y2="414.10" stroke="#000" stroke-width="1.1"/>
<text x="662.60" y="430.70" text-anchor="middle" font-size="10.7" font-family="Liberation Sans, sans-serif" stroke="#000" stroke-width="0.2">1000000</text>
<circle cx="428.4" cy="268.8" r="2.45" fill="none" stroke="#e00c10" stroke-width="1.2"/>
<circle cx="425.6" cy="301.8" r="2.45" fill="none" stroke="#e00c10" stroke-width="1.2"/>
<circle cx="429.5" cy="303.3" r="2.45" fill="none" stroke="#e00c10" stroke-width="1.2"/>
<circle cx="440.8" cy="301.4" r="2.45" fill="none" stroke="#e00c10" stroke-width="1.2"/>
<circle cx="447.2" cy="300.2" r="2.45" fill="none" stroke="#e00c10" stroke-width="1.2"/>
<circle cx="448.7" cy="300.0" r="2.45" fill="none" stroke="#e00c10" stroke-width="1.2"/>
<circle cx="418.1" cy="309.3" r="2.45" fill="none" stroke="#e00c10" stroke-width="1.2"/>
<circle cx="419.6" cy="311.4" r="2.45" fill="none" stroke="#e00c10" stroke-width="1.2"/>
<circle cx="423.9" cy="313.7" r="2.45" fill="none" stroke="#e00c10" stroke-width="1.2"/>
<circle cx="448.9" cy="308.1" r="2.45" fill="none" stroke="#e00c10" stroke-width="1.2"/>
<circle cx="449.8" cy="312.1" r="2.45" fill="none" stroke="#e00c10" stroke-width="1.2"/>
<circle cx="442.4" cy="314.3" r="2.45" fill="none" stroke="#e00c10" stroke-width="1.2"/>
<circle cx="459.6" cy="306.4" r="2.45" fill="none" stroke="#e00c10" stroke-width="1.2"/>
<circle cx="467.9" cy="306.8" r="2.45" fill="none" stroke="#e00c10" stroke-width="1.2"/>
<circle cx="458.5" cy="313.3" r="2.45" fill="none" stroke="#e00c10" stroke-width="1.2"/>
<circle cx="462.2" cy="318.5" r="2.45" fill="none" stroke="#e00c10" stroke-width="1.2"/>
<circle cx="439.5" cy="320.1" r="2.45" fill="none" stroke="#e00c10" stroke-width="1.2"/>
<circle cx="446.7" cy="318.4" r="2.45" fill="none" stroke="#e00c10" stroke-width="1.2"/>
<circle cx="451.7" cy="317.9" r="2.45" fill="none" stroke="#e00c10" stroke-width="1.2"/>
<circle cx="448.0" cy="321.3" r="2.45" fill="none" stroke="#e00c10" stroke-width="1.2"/>
<circle cx="451.7" cy="325.0" r="2.45" fill="none" stroke="#e00c10" stroke-width="1.2"/>
<circle cx="417.4" cy="326.7" r="2.45" fill="none" stroke="#e00c10" stroke-width="1.2"/>
<circle cx="421.4" cy="324.5" r="2.45" fill="none" stroke="#e00c10" stroke-width="1.2"/>
<circle cx="423.3" cy="329.6" r="2.45" fill="none" stroke="#e00c10" stroke-width="1.2"/>
<circle cx="423.9" cy="329.9" r="2.45" fill="none" stroke="#e00c10" stroke-width="1.2"/>
<circle cx="427.7" cy="328.7" r="2.45" fill="none" stroke="#e00c10" stroke-width="1.2"/>
<circle cx="439.1" cy="330.2" r="2.45" fill="none" stroke="#e00c10" stroke-width="1.2"/>
<circle cx="444.3" cy="332.6" r="2.45" fill="none" stroke="#e00c10" stroke-width="1.2"/>
<circle cx="448.0" cy="332.8" r="2.45" fill="none" stroke="#e00c10" stroke-width="1.2"/>
<circle cx="450.9" cy="337.9" r="2.45" fill="none" stroke="#e00c10" stroke-width="1.2"/>
<circle cx="484.3" cy="311.6" r="2.45" fill="none" stroke="#e00c10" stroke-width="1.2"/>
<circle cx="486.7" cy="311.6" r="2.45" fill="none" stroke="#e00c10" stroke-width="1.2"/>
<circle cx="469.7" cy="323.8" r="2.45" fill="none" stroke="#e00c10" stroke-width="1.2"/>
<circle cx="478.7" cy="326.7" r="2.45" fill="none" stroke="#e00c10" stroke-width="1.2"/>
<circle cx="483.0" cy="332.2" r="2.45" fill="none" stroke="#e00c10" stroke-width="1.2"/>
<circle cx="500.4" cy="324.1" r="2.45" fill="none" stroke="#e00c10" stroke-width="1.2"/>
<circle cx="463.7" cy="338.1" r="2.45" fill="none" stroke="#e00c10" stroke-width="1.2"/>
<circle cx="472.9" cy="341.1" r="2.45" fill="none" stroke="#e00c10" stroke-width="1.2"/>
<circle cx="481.7" cy="339.4" r="2.45" fill="none" stroke="#e00c10" stroke-width="1.2"/>
<circle cx="495.9" cy="343.7" r="2.45" fill="none" stroke="#e00c10" stroke-width="1.2"/>
<circle cx="528.2" cy="297.8" r="2.45" fill="none" stroke="#e00c10" stroke-width="1.2"/>
<circle cx="545.3" cy="297.2" r="2.45" fill="none" stroke="#e00c10" stroke-width="1.2"/>
<circle cx="513.1" cy="317.7" r="2.45" fill="none" stroke="#e00c10" stroke-width="1.2"/>
<circle cx="543.2" cy="324.1" r="2.45" fill="none" stroke="#e00c10" stroke-width="1.2"/>
<circle cx="531.1" cy="331.9" r="2.45" fill="none" stroke="#e00c10" stroke-width="1.2"/>
<circle cx="509.3" cy="337.7" r="2.45" fill="none" stroke="#e00c10" stroke-width="1.2"/>
<circle cx="508.1" cy="342.1" r="2.45" fill="none" stroke="#e00c10" stroke-width="1.2"/>
<circle cx="420.0" cy="353.4" r="2.45" fill="none" stroke="#e00c10" stroke-width="1.2"/>
<circle cx="430.9" cy="354.0" r="2.45" fill="none" stroke="#e00c10" stroke-width="1.2"/>
<circle cx="472.4" cy="359.9" r="2.45" fill="none" stroke="#e00c10" stroke-width="1.2"/>
<circle cx="447.3" cy="401.0" r="2.45" fill="none" stroke="#e00c10" stroke-width="1.2"/>
<circle cx="477.2" cy="401.0" r="2.45" fill="none" stroke="#e00c10" stroke-width="1.2"/>
<circle cx="492.6" cy="401.0" r="2.45" fill="none" stroke="#e00c10" stroke-width="1.2"/>
<circle cx="653.9" cy="329.0" r="2.45" fill="none" stroke="#e00c10" stroke-width="1.2"/>
<rect x="393.1" y="393.84" width="272.40" height="13.26" fill="rgb(110,110,110)" fill-opacity="0.45"/>
<rect x="393.1" y="240.7" width="272.40" height="166.40" fill="none" stroke="#000" stroke-width="1.15"/>
<text x="529.3" y="261.50" text-anchor="middle" font-size="14.8" font-family="Liberation Sans, sans-serif" stroke="#000" stroke-width="0.2">P= 0.284</text>
<text x="387.8" y="235.5" text-anchor="middle" font-size="19.6" font-family="Liberation Sans, sans-serif" stroke="#000" stroke-width="0.2">e</text>
<line x1="54.5" y1="467.49" x2="61.5" y2="467.49" stroke="#000" stroke-width="1.1"/>
<text x="47.7" y="472.09" text-anchor="end" font-size="10.7" font-family="Liberation Sans, sans-serif" stroke="#000" stroke-width="0.2">50000</text>
<line x1="54.5" y1="496.69" x2="61.5" y2="496.69" stroke="#000" stroke-width="1.1"/>
<text x="47.7" y="501.29" text-anchor="end" font-size="10.7" font-family="Liberation Sans, sans-serif" stroke="#000" stroke-width="0.2">10000</text>
<line x1="54.5" y1="509.26" x2="61.5" y2="509.26" stroke="#000" stroke-width="1.1"/>
<text x="47.7" y="513.86" text-anchor="end" font-size="10.7" font-family="Liberation Sans, sans-serif" stroke="#000" stroke-width="0.2">5000</text>
<line x1="54.5" y1="538.46" x2="61.5" y2="538.46" stroke="#000" stroke-width="1.1"/>
<text x="47.7" y="543.06" text-anchor="end" font-size="10.7" font-family="Liberation Sans, sans-serif" stroke="#000" stroke-width="0.2">1000</text>
<line x1="54.5" y1="551.03" x2="61.5" y2="551.03" stroke="#000" stroke-width="1.1"/>
<text x="47.7" y="555.63" text-anchor="end" font-size="10.7" font-family="Liberation Sans, sans-serif" stroke="#000" stroke-width="0.2">500</text>
<line x1="54.5" y1="580.23" x2="61.5" y2="580.23" stroke="#000" stroke-width="1.1"/>
<text x="47.7" y="584.83" text-anchor="end" font-size="10.7" font-family="Liberation Sans, sans-serif" stroke="#000" stroke-width="0.2">100</text>
<line x1="54.5" y1="592.80" x2="61.5" y2="592.80" stroke="#000" stroke-width="1.1"/>
<text x="47.7" y="597.40" text-anchor="end" font-size="10.7" font-family="Liberation Sans, sans-serif" stroke="#000" stroke-width="0.2">50</text>
<line x1="54.5" y1="622.00" x2="61.5" y2="622.00" stroke="#000" stroke-width="1.1"/>
<text x="47.7" y="626.60" text-anchor="end" font-size="10.7" font-family="Liberation Sans, sans-serif" stroke="#000" stroke-width="0.2">10</text>
<line x1="134.6" y1="627.90" x2="134.6" y2="634.90" stroke="#000" stroke-width="1.1"/>
<text x="134.6" y="649.40" text-anchor="middle" font-size="11.0" font-family="Liberation Sans, sans-serif" stroke="#000" stroke-width="0.2">Control group</text>
<line x1="260.7" y1="627.90" x2="260.7" y2="634.90" stroke="#000" stroke-width="1.1"/>
<text x="260.7" y="649.40" text-anchor="middle" font-size="11.0" font-family="Liberation Sans, sans-serif" stroke="#000" stroke-width="0.2">EBV<tspan dy="-4.5" font-size="7.5">+</tspan><tspan dy="4.5"> group</tspan></text>
<line x1="134.6" y1="621.80" x2="134.6" y2="563.70" stroke="#000" stroke-width="1.65" stroke-dasharray="6.1 6.3" stroke-dashoffset="1.0"/>
<line x1="134.6" y1="525.80" x2="134.6" y2="536.50" stroke="#000" stroke-width="1.65" stroke-dasharray="6.1 6.3" stroke-dashoffset="1.0"/>
<line x1="109.39999999999999" y1="621.80" x2="159.79999999999998" y2="621.80" stroke="#000" stroke-width="1.65" stroke-linecap="round"/>
<line x1="109.39999999999999" y1="525.80" x2="159.79999999999998" y2="525.80" stroke="#000" stroke-width="1.65" stroke-linecap="round"/>
<rect x="84.15" y="536.50" width="100.90" height="27.20" fill="none" stroke="#000" stroke-width="1.65" stroke-linejoin="round"/>
<line x1="84.15" y1="551.70" x2="185.05" y2="551.70" stroke="#000" stroke-width="3.8"/>
<line x1="260.7" y1="621.80" x2="260.7" y2="551.90" stroke="#f00000" stroke-width="1.65" stroke-dasharray="6.1 6.3" stroke-dashoffset="1.0"/>
<line x1="260.7" y1="513.20" x2="260.7" y2="523.80" stroke="#f00000" stroke-width="1.65" stroke-dasharray="6.1 6.3" stroke-dashoffset="1.0"/>
<line x1="235.5" y1="621.80" x2="285.9" y2="621.80" stroke="#f00000" stroke-width="1.65" stroke-linecap="round"/>
<line x1="235.5" y1="513.20" x2="285.9" y2="513.20" stroke="#f00000" stroke-width="1.65" stroke-linecap="round"/>
<rect x="210.25" y="523.80" width="100.90" height="28.10" fill="none" stroke="#f00000" stroke-width="1.65" stroke-linejoin="round"/>
<line x1="210.25" y1="541.50" x2="311.15" y2="541.50" stroke="#f00000" stroke-width="3.8"/>
<circle cx="134.6" cy="504.8" r="2.4" fill="#fff" stroke="#000" stroke-width="1.25"/>
<circle cx="134.6" cy="515.0" r="2.4" fill="#fff" stroke="#000" stroke-width="1.25"/>
<circle cx="124.4" cy="525.8" r="2.4" fill="#fff" stroke="#000" stroke-width="1.25"/>
<circle cx="129.5" cy="527.8" r="2.4" fill="#fff" stroke="#000" stroke-width="1.25"/>
<circle cx="134.6" cy="528.1" r="2.4" fill="#fff" stroke="#000" stroke-width="1.25"/>
<circle cx="139.9" cy="527.8" r="2.4" fill="#fff" stroke="#000" stroke-width="1.25"/>
<circle cx="144.8" cy="525.8" r="2.4" fill="#fff" stroke="#000" stroke-width="1.25"/>
<circle cx="120.1" cy="532.3" r="2.4" fill="#fff" stroke="#000" stroke-width="1.25"/>
<circle cx="149.7" cy="532.9" r="2.4" fill="#fff" stroke="#000" stroke-width="1.25"/>
<circle cx="124.4" cy="535.5" r="2.4" fill="#fff" stroke="#000" stroke-width="1.25"/>
<circle cx="129.5" cy="535.9" r="2.4" fill="#fff" stroke="#000" stroke-width="1.25"/>
<circle cx="134.6" cy="536.8" r="2.4" fill="#fff" stroke="#000" stroke-width="1.25"/>
<circle cx="139.9" cy="536.2" r="2.4" fill="#fff" stroke="#000" stroke-width="1.25"/>
<circle cx="144.8" cy="535.5" r="2.4" fill="#fff" stroke="#000" stroke-width="1.25"/>
<circle cx="108.9" cy="542.1" r="2.4" fill="#fff" stroke="#000" stroke-width="1.25"/>
<circle cx="114.2" cy="542.3" r="2.4" fill="#fff" stroke="#000" stroke-width="1.25"/>
<circle cx="119.4" cy="542.5" r="2.4" fill="#fff" stroke="#000" stroke-width="1.25"/>
<circle cx="124.4" cy="543.0" r="2.4" fill="#fff" stroke="#000" stroke-width="1.25"/>
<circle cx="129.5" cy="544.4" r="2.4" fill="#fff" stroke="#000" stroke-width="1.25"/>
<circle cx="134.6" cy="545.6" r="2.4" fill="#fff" stroke="#000" stroke-width="1.25"/>
<circle cx="139.6" cy="544.7" r="2.4" fill="#fff" stroke="#000" stroke-width="1.25"/>
<circle cx="144.8" cy="543.0" r="2.4" fill="#fff" stroke="#000" stroke-width="1.25"/>
<circle cx="149.8" cy="542.5" r="2.4" fill="#fff" stroke="#000" stroke-width="1.25"/>
<circle cx="154.9" cy="541.6" r="2.4" fill="#fff" stroke="#000" stroke-width="1.25"/>
<circle cx="134.6" cy="552.3" r="2.4" fill="#fff" stroke="#000" stroke-width="1.25"/>
<circle cx="142.7" cy="552.0" r="2.4" fill="#fff" stroke="#000" stroke-width="1.25"/>
<circle cx="147.7" cy="551.1" r="2.4" fill="#fff" stroke="#000" stroke-width="1.25"/>
<circle cx="125.3" cy="554.1" r="2.4" fill="#fff" stroke="#000" stroke-width="1.25"/>
<circle cx="130.4" cy="555.2" r="2.4" fill="#fff" stroke="#000" stroke-width="1.25"/>
<circle cx="139.6" cy="555.8" r="2.4" fill="#fff" stroke="#000" stroke-width="1.25"/>
<circle cx="120.3" cy="557.7" r="2.4" fill="#fff" stroke="#000" stroke-width="1.25"/>
<circle cx="134.6" cy="558.2" r="2.4" fill="#fff" stroke="#000" stroke-width="1.25"/>
<circle cx="149.0" cy="557.3" r="2.4" fill="#fff" stroke="#000" stroke-width="1.25"/>
<circle cx="125.3" cy="559.9" r="2.4" fill="#fff" stroke="#000" stroke-width="1.25"/>
<circle cx="130.4" cy="561.1" r="2.4" fill="#fff" stroke="#000" stroke-width="1.25"/>
<circle cx="139.6" cy="561.6" r="2.4" fill="#fff" stroke="#000" stroke-width="1.25"/>
<circle cx="144.4" cy="559.7" r="2.4" fill="#fff" stroke="#000" stroke-width="1.25"/>
<circle cx="134.6" cy="563.6" r="2.4" fill="#fff" stroke="#000" stroke-width="1.25"/>
<circle cx="130.4" cy="566.4" r="2.4" fill="#fff" stroke="#000" stroke-width="1.25"/>
<circle cx="134.8" cy="569.0" r="2.4" fill="#fff" stroke="#000" stroke-width="1.25"/>
<circle cx="145.3" cy="568.6" r="2.4" fill="#fff" stroke="#000" stroke-width="1.25"/>
<circle cx="127.3" cy="571.6" r="2.4" fill="#fff" stroke="#000" stroke-width="1.25"/>
<circle cx="132.3" cy="573.4" r="2.4" fill="#fff" stroke="#000" stroke-width="1.25"/>
<circle cx="137.2" cy="575.1" r="2.4" fill="#fff" stroke="#000" stroke-width="1.25"/>
<circle cx="141.8" cy="572.1" r="2.4" fill="#fff" stroke="#000" stroke-width="1.25"/>
<circle cx="134.6" cy="579.5" r="2.4" fill="#fff" stroke="#000" stroke-width="1.25"/>
<circle cx="134.6" cy="594.5" r="2.4" fill="#fff" stroke="#000" stroke-width="1.25"/>
<circle cx="129.5" cy="621.8" r="2.4" fill="#fff" stroke="#000" stroke-width="1.25"/>
<circle cx="134.6" cy="621.8" r="2.4" fill="#fff" stroke="#000" stroke-width="1.25"/>
<circle cx="139.9" cy="621.8" r="2.4" fill="#fff" stroke="#000" stroke-width="1.25"/>
<circle cx="260.6" cy="498.9" r="2.4" fill="#fff" stroke="#d8080a" stroke-width="1.25"/>
<circle cx="265.2" cy="496.1" r="2.4" fill="#fff" stroke="#d8080a" stroke-width="1.25"/>
<circle cx="253.5" cy="505.5" r="2.4" fill="#fff" stroke="#d8080a" stroke-width="1.25"/>
<circle cx="257.8" cy="508.3" r="2.4" fill="#fff" stroke="#d8080a" stroke-width="1.25"/>
<circle cx="263.1" cy="508.3" r="2.4" fill="#fff" stroke="#d8080a" stroke-width="1.25"/>
<circle cx="268.4" cy="508.0" r="2.4" fill="#fff" stroke="#d8080a" stroke-width="1.25"/>
<circle cx="260.6" cy="513.0" r="2.4" fill="#fff" stroke="#d8080a" stroke-width="1.25"/>
<circle cx="246.6" cy="517.6" r="2.4" fill="#fff" stroke="#d8080a" stroke-width="1.25"/>
<circle cx="251.0" cy="520.6" r="2.4" fill="#fff" stroke="#d8080a" stroke-width="1.25"/>
<circle cx="256.1" cy="521.1" r="2.4" fill="#fff" stroke="#d8080a" stroke-width="1.25"/>
<circle cx="261.5" cy="518.2" r="2.4" fill="#fff" stroke="#d8080a" stroke-width="1.25"/>
<circle cx="270.7" cy="520.4" r="2.4" fill="#fff" stroke="#d8080a" stroke-width="1.25"/>
<circle cx="260.6" cy="523.5" r="2.4" fill="#fff" stroke="#d8080a" stroke-width="1.25"/>
<circle cx="265.9" cy="522.9" r="2.4" fill="#fff" stroke="#d8080a" stroke-width="1.25"/>
<circle cx="243.3" cy="530.3" r="2.4" fill="#fff" stroke="#d8080a" stroke-width="1.25"/>
<circle cx="248.6" cy="530.7" r="2.4" fill="#fff" stroke="#d8080a" stroke-width="1.25"/>
<circle cx="252.9" cy="533.6" r="2.4" fill="#fff" stroke="#d8080a" stroke-width="1.25"/>
<circle cx="258.0" cy="534.4" r="2.4" fill="#fff" stroke="#d8080a" stroke-width="1.25"/>
<circle cx="262.8" cy="532.4" r="2.4" fill="#fff" stroke="#d8080a" stroke-width="1.25"/>
<circle cx="267.8" cy="531.2" r="2.4" fill="#fff" stroke="#d8080a" stroke-width="1.25"/>
<circle cx="273.1" cy="531.2" r="2.4" fill="#fff" stroke="#d8080a" stroke-width="1.25"/>
<circle cx="278.2" cy="530.1" r="2.4" fill="#fff" stroke="#d8080a" stroke-width="1.25"/>
<circle cx="252.9" cy="538.8" r="2.4" fill="#fff" stroke="#d8080a" stroke-width="1.25"/>
<circle cx="260.8" cy="538.6" r="2.4" fill="#fff" stroke="#d8080a" stroke-width="1.25"/>
<circle cx="267.2" cy="536.5" r="2.4" fill="#fff" stroke="#d8080a" stroke-width="1.25"/>
<circle cx="272.5" cy="536.6" r="2.4" fill="#fff" stroke="#d8080a" stroke-width="1.25"/>
<circle cx="238.9" cy="541.5" r="2.4" fill="#fff" stroke="#d8080a" stroke-width="1.25"/>
<circle cx="243.8" cy="543.2" r="2.4" fill="#fff" stroke="#d8080a" stroke-width="1.25"/>
<circle cx="249.1" cy="543.5" r="2.4" fill="#fff" stroke="#d8080a" stroke-width="1.25"/>
<circle cx="257.3" cy="541.9" r="2.4" fill="#fff" stroke="#d8080a" stroke-width="1.25"/>
<circle cx="265.5" cy="541.7" r="2.4" fill="#fff" stroke="#d8080a" stroke-width="1.25"/>
<circle cx="281.2" cy="541.7" r="2.4" fill="#fff" stroke="#d8080a" stroke-width="1.25"/>
<circle cx="276.2" cy="543.2" r="2.4" fill="#fff" stroke="#d8080a" stroke-width="1.25"/>
<circle cx="271.3" cy="545.0" r="2.4" fill="#fff" stroke="#d8080a" stroke-width="1.25"/>
<circle cx="261.5" cy="545.0" r="2.4" fill="#fff" stroke="#d8080a" stroke-width="1.25"/>
<circle cx="253.5" cy="546.4" r="2.4" fill="#fff" stroke="#d8080a" stroke-width="1.25"/>
<circle cx="266.6" cy="547.1" r="2.4" fill="#fff" stroke="#d8080a" stroke-width="1.25"/>
<circle cx="258.0" cy="548.7" r="2.4" fill="#fff" stroke="#d8080a" stroke-width="1.25"/>
<circle cx="262.8" cy="550.6" r="2.4" fill="#fff" stroke="#d8080a" stroke-width="1.25"/>
<circle cx="245.9" cy="550.9" r="2.4" fill="#fff" stroke="#d8080a" stroke-width="1.25"/>
<circle cx="250.8" cy="553.2" r="2.4" fill="#fff" stroke="#d8080a" stroke-width="1.25"/>
<circle cx="255.6" cy="555.3" r="2.4" fill="#fff" stroke="#d8080a" stroke-width="1.25"/>
<circle cx="260.6" cy="555.6" r="2.4" fill="#fff" stroke="#d8080a" stroke-width="1.25"/>
<circle cx="265.9" cy="555.1" r="2.4" fill="#fff" stroke="#d8080a" stroke-width="1.25"/>
<circle cx="271.2" cy="554.5" r="2.4" fill="#fff" stroke="#d8080a" stroke-width="1.25"/>
<circle cx="275.7" cy="552.1" r="2.4" fill="#fff" stroke="#d8080a" stroke-width="1.25"/>
<circle cx="260.6" cy="563.0" r="2.4" fill="#fff" stroke="#d8080a" stroke-width="1.25"/>
<circle cx="256.7" cy="566.5" r="2.4" fill="#fff" stroke="#d8080a" stroke-width="1.25"/>
<circle cx="260.6" cy="570.1" r="2.4" fill="#fff" stroke="#d8080a" stroke-width="1.25"/>
<circle cx="265.9" cy="568.8" r="2.4" fill="#fff" stroke="#d8080a" stroke-width="1.25"/>
<circle cx="260.6" cy="576.1" r="2.4" fill="#fff" stroke="#d8080a" stroke-width="1.25"/>
<circle cx="265.9" cy="575.0" r="2.4" fill="#fff" stroke="#d8080a" stroke-width="1.25"/>
<circle cx="260.6" cy="621.8" r="2.4" fill="#fff" stroke="#d8080a" stroke-width="1.25"/>
<circle cx="265.7" cy="621.8" r="2.4" fill="#fff" stroke="#d8080a" stroke-width="1.25"/>
<rect x="61.5" y="614.64" width="272.40" height="13.26" fill="rgb(110,110,110)" fill-opacity="0.45"/>
<rect x="61.5" y="461.5" width="272.40" height="166.40" fill="none" stroke="#000" stroke-width="1.15"/>
<text x="197.7" y="482.30" text-anchor="middle" font-size="14.8" font-family="Liberation Sans, sans-serif" stroke="#000" stroke-width="0.2">P= 0.006</text>
<text x="56.2" y="455.2" text-anchor="middle" font-size="19.6" font-family="Liberation Sans, sans-serif" stroke="#000" stroke-width="0.2">c</text>
<text transform="translate(16.0,552.10) rotate(-90)" text-anchor="middle" font-size="12.3" font-family="Liberation Sans, sans-serif" stroke="#000" stroke-width="0.2">BAFF<tspan dy="2.6" font-size="8.3">after</tspan><tspan dy="-2.6"> (pg/mL)</tspan></text>
<line x1="386.1" y1="467.49" x2="393.1" y2="467.49" stroke="#000" stroke-width="1.1"/>
<text x="379.3" y="472.09" text-anchor="end" font-size="10.7" font-family="Liberation Sans, sans-serif" stroke="#000" stroke-width="0.2">50000</text>
<line x1="386.1" y1="496.69" x2="393.1" y2="496.69" stroke="#000" stroke-width="1.1"/>
<text x="379.3" y="501.29" text-anchor="end" font-size="10.7" font-family="Liberation Sans, sans-serif" stroke="#000" stroke-width="0.2">10000</text>
<line x1="386.1" y1="509.26" x2="393.1" y2="509.26" stroke="#000" stroke-width="1.1"/>
<text x="379.3" y="513.86" text-anchor="end" font-size="10.7" font-family="Liberation Sans, sans-serif" stroke="#000" stroke-width="0.2">5000</text>
<line x1="386.1" y1="538.46" x2="393.1" y2="538.46" stroke="#000" stroke-width="1.1"/>
<text x="379.3" y="543.06" text-anchor="end" font-size="10.7" font-family="Liberation Sans, sans-serif" stroke="#000" stroke-width="0.2">1000</text>
<line x1="386.1" y1="551.03" x2="393.1" y2="551.03" stroke="#000" stroke-width="1.1"/>
<text x="379.3" y="555.63" text-anchor="end" font-size="10.7" font-family="Liberation Sans, sans-serif" stroke="#000" stroke-width="0.2">500</text>
<line x1="386.1" y1="580.23" x2="393.1" y2="580.23" stroke="#000" stroke-width="1.1"/>
<text x="379.3" y="584.83" text-anchor="end" font-size="10.7" font-family="Liberation Sans, sans-serif" stroke="#000" stroke-width="0.2">100</text>
<line x1="386.1" y1="592.80" x2="393.1" y2="592.80" stroke="#000" stroke-width="1.1"/>
<text x="379.3" y="597.40" text-anchor="end" font-size="10.7" font-family="Liberation Sans, sans-serif" stroke="#000" stroke-width="0.2">50</text>
<line x1="386.1" y1="622.00" x2="393.1" y2="622.00" stroke="#000" stroke-width="1.1"/>
<text x="379.3" y="626.60" text-anchor="end" font-size="10.7" font-family="Liberation Sans, sans-serif" stroke="#000" stroke-width="0.2">10</text>
<line x1="409.74" y1="627.90" x2="409.74" y2="634.90" stroke="#000" stroke-width="1.1"/>
<text x="409.74" y="651.50" text-anchor="middle" font-size="10.7" font-family="Liberation Sans, sans-serif" stroke="#000" stroke-width="0.2">250</text>
<line x1="452.00" y1="627.90" x2="452.00" y2="634.90" stroke="#000" stroke-width="1.1"/>
<text x="452.00" y="651.50" text-anchor="middle" font-size="10.7" font-family="Liberation Sans, sans-serif" stroke="#000" stroke-width="0.2">1000</text>
<line x1="522.20" y1="627.90" x2="522.20" y2="634.90" stroke="#000" stroke-width="1.1"/>
<text x="522.20" y="651.50" text-anchor="middle" font-size="10.7" font-family="Liberation Sans, sans-serif" stroke="#000" stroke-width="0.2">10000</text>
<line x1="592.40" y1="627.90" x2="592.40" y2="634.90" stroke="#000" stroke-width="1.1"/>
<text x="592.40" y="651.50" text-anchor="middle" font-size="10.7" font-family="Liberation Sans, sans-serif" stroke="#000" stroke-width="0.2">100000</text>
<line x1="662.60" y1="627.90" x2="662.60" y2="634.90" stroke="#000" stroke-width="1.1"/>
<text x="662.60" y="651.50" text-anchor="middle" font-size="10.7" font-family="Liberation Sans, sans-serif" stroke="#000" stroke-width="0.2">1000000</text>
<circle cx="442.4" cy="498.8" r="2.45" fill="none" stroke="#e00c10" stroke-width="1.2"/>
<circle cx="448.0" cy="496.0" r="2.45" fill="none" stroke="#e00c10" stroke-width="1.2"/>
<circle cx="428.3" cy="508.4" r="2.45" fill="none" stroke="#e00c10" stroke-width="1.2"/>
<circle cx="439.9" cy="508.4" r="2.45" fill="none" stroke="#e00c10" stroke-width="1.2"/>
<circle cx="459.2" cy="507.8" r="2.45" fill="none" stroke="#e00c10" stroke-width="1.2"/>
<circle cx="429.5" cy="522.8" r="2.45" fill="none" stroke="#e00c10" stroke-width="1.2"/>
<circle cx="441.0" cy="523.6" r="2.45" fill="none" stroke="#e00c10" stroke-width="1.2"/>
<circle cx="446.5" cy="520.4" r="2.45" fill="none" stroke="#e00c10" stroke-width="1.2"/>
<circle cx="448.0" cy="521.3" r="2.45" fill="none" stroke="#e00c10" stroke-width="1.2"/>
<circle cx="449.8" cy="518.0" r="2.45" fill="none" stroke="#e00c10" stroke-width="1.2"/>
<circle cx="448.5" cy="530.6" r="2.45" fill="none" stroke="#e00c10" stroke-width="1.2"/>
<circle cx="451.7" cy="531.9" r="2.45" fill="none" stroke="#e00c10" stroke-width="1.2"/>
<circle cx="458.4" cy="532.5" r="2.45" fill="none" stroke="#e00c10" stroke-width="1.2"/>
<circle cx="427.7" cy="533.8" r="2.45" fill="none" stroke="#e00c10" stroke-width="1.2"/>
<circle cx="421.3" cy="538.5" r="2.45" fill="none" stroke="#e00c10" stroke-width="1.2"/>
<circle cx="417.9" cy="541.5" r="2.45" fill="none" stroke="#e00c10" stroke-width="1.2"/>
<circle cx="419.6" cy="545.5" r="2.45" fill="none" stroke="#e00c10" stroke-width="1.2"/>
<circle cx="424.0" cy="543.3" r="2.45" fill="none" stroke="#e00c10" stroke-width="1.2"/>
<circle cx="424.0" cy="550.6" r="2.45" fill="none" stroke="#e00c10" stroke-width="1.2"/>
<circle cx="417.7" cy="555.2" r="2.45" fill="none" stroke="#e00c10" stroke-width="1.2"/>
<circle cx="423.5" cy="555.4" r="2.45" fill="none" stroke="#e00c10" stroke-width="1.2"/>
<circle cx="446.9" cy="543.2" r="2.45" fill="none" stroke="#e00c10" stroke-width="1.2"/>
<circle cx="447.8" cy="543.6" r="2.45" fill="none" stroke="#e00c10" stroke-width="1.2"/>
<circle cx="452.0" cy="546.8" r="2.45" fill="none" stroke="#e00c10" stroke-width="1.2"/>
<circle cx="450.9" cy="551.0" r="2.45" fill="none" stroke="#e00c10" stroke-width="1.2"/>
<circle cx="439.1" cy="554.7" r="2.45" fill="none" stroke="#e00c10" stroke-width="1.2"/>
<circle cx="447.2" cy="555.7" r="2.45" fill="none" stroke="#e00c10" stroke-width="1.2"/>
<circle cx="444.1" cy="563.2" r="2.45" fill="none" stroke="#e00c10" stroke-width="1.2"/>
<circle cx="420.0" cy="576.0" r="2.45" fill="none" stroke="#e00c10" stroke-width="1.2"/>
<circle cx="430.8" cy="575.0" r="2.45" fill="none" stroke="#e00c10" stroke-width="1.2"/>
<circle cx="484.2" cy="517.3" r="2.45" fill="none" stroke="#e00c10" stroke-width="1.2"/>
<circle cx="482.9" cy="520.5" r="2.45" fill="none" stroke="#e00c10" stroke-width="1.2"/>
<circle cx="478.5" cy="530.8" r="2.45" fill="none" stroke="#e00c10" stroke-width="1.2"/>
<circle cx="467.8" cy="536.7" r="2.45" fill="none" stroke="#e00c10" stroke-width="1.2"/>
<circle cx="469.6" cy="536.7" r="2.45" fill="none" stroke="#e00c10" stroke-width="1.2"/>
<circle cx="462.1" cy="541.6" r="2.45" fill="none" stroke="#e00c10" stroke-width="1.2"/>
<circle cx="463.4" cy="541.6" r="2.45" fill="none" stroke="#e00c10" stroke-width="1.2"/>
<circle cx="472.3" cy="544.7" r="2.45" fill="none" stroke="#e00c10" stroke-width="1.2"/>
<circle cx="481.5" cy="553.1" r="2.45" fill="none" stroke="#e00c10" stroke-width="1.2"/>
<circle cx="486.7" cy="552.0" r="2.45" fill="none" stroke="#e00c10" stroke-width="1.2"/>
<circle cx="495.9" cy="548.7" r="2.45" fill="none" stroke="#e00c10" stroke-width="1.2"/>
<circle cx="500.3" cy="541.8" r="2.45" fill="none" stroke="#e00c10" stroke-width="1.2"/>
<circle cx="509.2" cy="546.5" r="2.45" fill="none" stroke="#e00c10" stroke-width="1.2"/>
<circle cx="512.6" cy="530.1" r="2.45" fill="none" stroke="#e00c10" stroke-width="1.2"/>
<circle cx="473.0" cy="568.8" r="2.45" fill="none" stroke="#e00c10" stroke-width="1.2"/>
<circle cx="492.6" cy="566.6" r="2.45" fill="none" stroke="#e00c10" stroke-width="1.2"/>
<circle cx="508.2" cy="570.1" r="2.45" fill="none" stroke="#e00c10" stroke-width="1.2"/>
<circle cx="531.2" cy="505.7" r="2.45" fill="none" stroke="#e00c10" stroke-width="1.2"/>
<circle cx="528.1" cy="513.1" r="2.45" fill="none" stroke="#e00c10" stroke-width="1.2"/>
<circle cx="545.2" cy="534.1" r="2.45" fill="none" stroke="#e00c10" stroke-width="1.2"/>
<circle cx="543.2" cy="538.9" r="2.45" fill="none" stroke="#e00c10" stroke-width="1.2"/>
<circle cx="653.9" cy="531.4" r="2.45" fill="none" stroke="#e00c10" stroke-width="1.2"/>
<circle cx="425.7" cy="621.9" r="2.45" fill="none" stroke="#e00c10" stroke-width="1.2"/>
<circle cx="477.1" cy="621.9" r="2.45" fill="none" stroke="#e00c10" stroke-width="1.2"/>
<rect x="393.1" y="614.64" width="272.40" height="13.26" fill="rgb(110,110,110)" fill-opacity="0.45"/>
<rect x="393.1" y="461.5" width="272.40" height="166.40" fill="none" stroke="#000" stroke-width="1.15"/>
<text x="529.3" y="482.30" text-anchor="middle" font-size="14.8" font-family="Liberation Sans, sans-serif" stroke="#000" stroke-width="0.2">P= 0.273</text>
<text x="387.8" y="454.9" text-anchor="middle" font-size="19.6" font-family="Liberation Sans, sans-serif" stroke="#000" stroke-width="0.2">f</text>
<text x="425.5" y="670.6" font-size="12.2" font-family="Liberation Sans, sans-serif" stroke="#000" stroke-width="0.2">Peak EBV viral load (copies·mL<tspan dy="-5.5" font-size="8.4">−1</tspan><tspan dy="5.5"> )</tspan></text>
</g>
</svg></body></html>
